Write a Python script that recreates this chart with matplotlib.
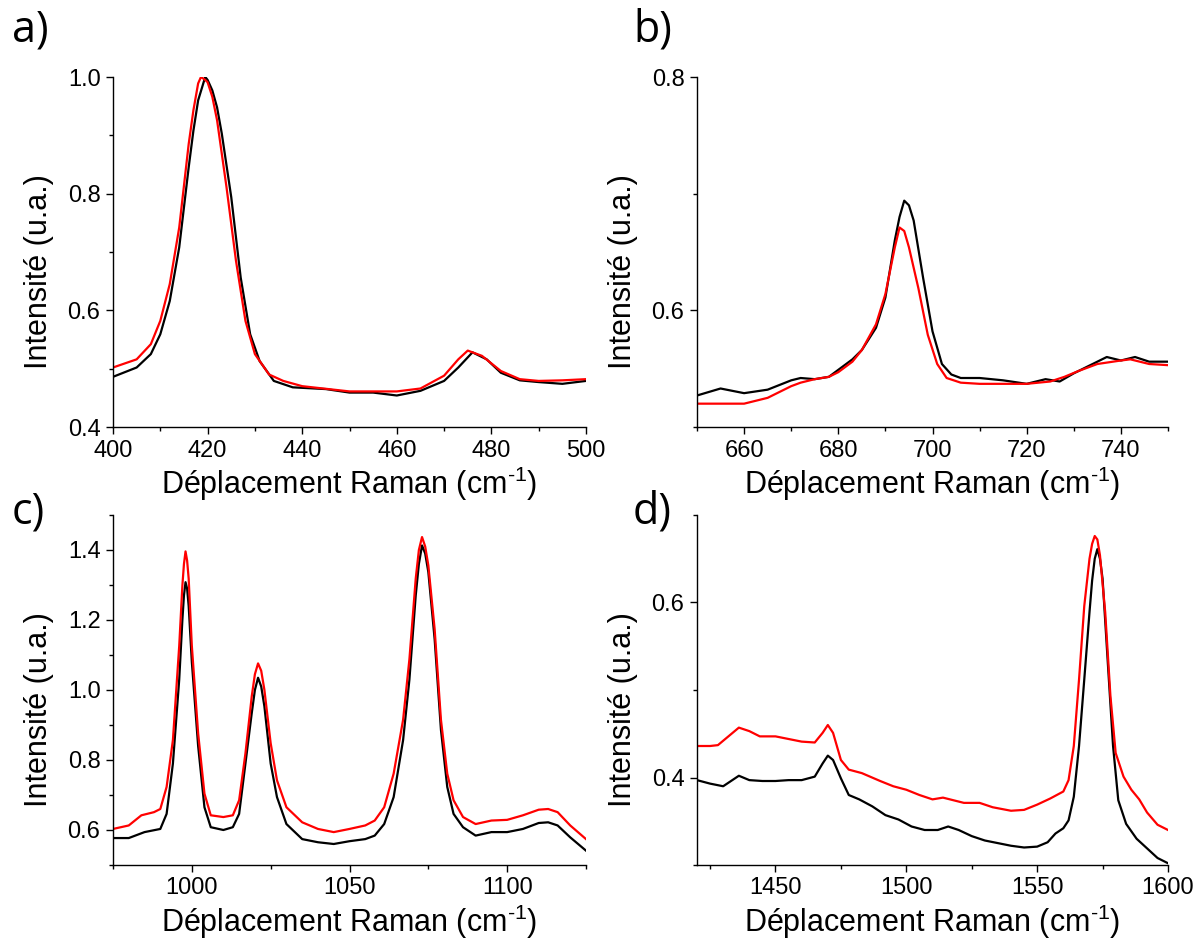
import matplotlib
matplotlib.use("Agg")
import matplotlib.pyplot as plt
from matplotlib.ticker import MultipleLocator

plt.rcParams['font.family'] = ['Liberation Sans', 'DejaVu Sans']
plt.rcParams['mathtext.fontset'] = 'custom'
plt.rcParams['mathtext.rm'] = 'Liberation Sans'
plt.rcParams['mathtext.it'] = 'Liberation Sans'

# a) 400-500 cm-1
xa_black = [400, 405, 408, 410, 412, 414, 416, 417, 418, 419.5, 420, 421, 422, 423, 425, 427, 429,
            431, 434, 438, 445, 450, 455, 460, 465, 470, 473, 476, 479, 482, 486, 490, 495, 500]
ya_black = [0.486, 0.502, 0.525, 0.559, 0.616, 0.708, 0.845, 0.908, 0.96, 1.0, 0.995, 0.977, 0.948,
            0.903, 0.794, 0.656, 0.559, 0.513, 0.479, 0.468, 0.465, 0.459, 0.459, 0.454, 0.462,
            0.479, 0.502, 0.528, 0.516, 0.493, 0.480, 0.477, 0.474, 0.479]
xa_red = [400, 405, 408, 410, 412, 414, 416, 417, 418, 418.6, 419.5, 420, 421, 422, 424, 426, 428,
          430, 433, 436, 440, 450, 460, 465, 470, 473, 475, 478, 482, 486, 490, 495, 500]
ya_red = [0.502, 0.516, 0.542, 0.582, 0.645, 0.742, 0.885, 0.943, 0.989, 1.0, 0.995, 0.991, 0.966,
          0.926, 0.811, 0.685, 0.582, 0.525, 0.490, 0.479, 0.470, 0.461, 0.461, 0.466, 0.488,
          0.516, 0.531, 0.522, 0.496, 0.482, 0.479, 0.480, 0.482]

# b) 650-750 cm-1
xb_black = [650, 655, 660, 665, 670, 672, 675, 678, 680, 683, 685, 688, 690, 692, 693, 694, 695,
            696, 698, 700, 702, 704, 706, 710, 715, 720, 724, 727, 730, 735, 737, 740, 743, 746, 750]
yb_black = [0.527, 0.533, 0.529, 0.532, 0.540, 0.542, 0.541, 0.543, 0.549, 0.558, 0.566, 0.585,
            0.611, 0.660, 0.680, 0.694, 0.690, 0.677, 0.628, 0.582, 0.554, 0.545, 0.542, 0.542,
            0.540, 0.537, 0.541, 0.539, 0.546, 0.556, 0.560, 0.557, 0.560, 0.556, 0.556]
xb_red = [650, 655, 660, 665, 668, 670, 672, 675, 678, 680, 683, 685, 688, 690, 692, 693, 694, 695,
          697, 699, 701, 703, 706, 710, 720, 725, 728, 731, 735, 740, 742, 746, 750]
yb_red = [0.520, 0.520, 0.520, 0.525, 0.531, 0.535, 0.538, 0.541, 0.543, 0.547, 0.556, 0.566,
          0.588, 0.614, 0.654, 0.671, 0.668, 0.654, 0.619, 0.579, 0.554, 0.542, 0.538, 0.537,
          0.537, 0.539, 0.543, 0.548, 0.554, 0.557, 0.558, 0.554, 0.553]

# c) 975-1125 cm-1
xc_black = [975, 980, 985, 990, 992, 994, 996, 997, 997.5, 998, 998.5, 999, 1000, 1002, 1004, 1006,
            1010, 1013, 1015, 1017, 1019, 1020, 1021, 1022, 1023, 1025, 1027, 1030, 1035, 1040,
            1045, 1050, 1055, 1058, 1061, 1064, 1067, 1069, 1071, 1072, 1073, 1074, 1075, 1077,
            1079, 1081, 1083, 1086, 1090, 1095, 1100, 1105, 1110, 1113, 1116, 1120, 1125]
yc_black = [0.577, 0.577, 0.594, 0.603, 0.646, 0.79, 1.03, 1.20, 1.27, 1.308, 1.29, 1.24, 1.08,
            0.84, 0.665, 0.608, 0.600, 0.608, 0.646, 0.79, 0.934, 1.00, 1.035, 1.01, 0.954, 0.79,
            0.694, 0.617, 0.574, 0.565, 0.560, 0.568, 0.574, 0.584, 0.617, 0.694, 0.857, 1.03,
            1.27, 1.36, 1.413, 1.39, 1.337, 1.145, 0.886, 0.723, 0.646, 0.608, 0.584, 0.594,
            0.594, 0.603, 0.620, 0.622, 0.613, 0.579, 0.541]
xc_red = [975, 980, 984, 988, 990, 992, 994, 996, 997, 997.5, 998, 998.5, 999, 1000, 1002, 1004,
          1006, 1010, 1013, 1015, 1017, 1019, 1020, 1021, 1022, 1023, 1025, 1027, 1030, 1035,
          1040, 1045, 1050, 1055, 1058, 1061, 1064, 1067, 1069, 1071, 1072, 1073, 1074, 1075,
          1077, 1079, 1081, 1083, 1086, 1090, 1095, 1100, 1105, 1110, 1113, 1116, 1120, 1125]
yc_red = [0.603, 0.613, 0.642, 0.651, 0.66, 0.723, 0.857, 1.126, 1.298, 1.36, 1.396, 1.37, 1.318,
          1.126, 0.876, 0.704, 0.642, 0.637, 0.642, 0.685, 0.819, 0.982, 1.045, 1.076, 1.055,
          1.001, 0.848, 0.742, 0.665, 0.622, 0.603, 0.594, 0.603, 0.613, 0.627, 0.665, 0.761,
          0.915, 1.088, 1.318, 1.40, 1.437, 1.41, 1.356, 1.174, 0.915, 0.761, 0.685, 0.637,
          0.617, 0.627, 0.629, 0.642, 0.658, 0.660, 0.651, 0.613, 0.574]

# d) 1420-1600 cm-1
xd_black = [1420, 1425, 1430, 1433, 1436, 1440, 1445, 1450, 1455, 1460, 1465, 1468, 1470, 1472,
            1475, 1478, 1482, 1487, 1492, 1497, 1502, 1507, 1512, 1516, 1520, 1525, 1530, 1535,
            1540, 1545, 1550, 1554, 1557, 1560, 1562, 1564, 1566, 1568, 1570, 1571, 1572, 1573,
            1574, 1575, 1577, 1579, 1581, 1584, 1588, 1592, 1596, 1600]
yd_black = [0.397, 0.393, 0.390, 0.396, 0.402, 0.397, 0.396, 0.396, 0.397, 0.397, 0.401, 0.416,
            0.425, 0.420, 0.399, 0.380, 0.375, 0.367, 0.357, 0.352, 0.344, 0.340, 0.340, 0.344,
            0.340, 0.333, 0.328, 0.325, 0.322, 0.320, 0.321, 0.326, 0.336, 0.342, 0.351, 0.378,
            0.436, 0.512, 0.589, 0.625, 0.650, 0.661, 0.650, 0.627, 0.531, 0.436, 0.374, 0.347,
            0.330, 0.319, 0.308, 0.302]
xd_red = [1420, 1425, 1428, 1432, 1436, 1440, 1444, 1450, 1455, 1460, 1465, 1468, 1470, 1472,
          1475, 1478, 1483, 1490, 1495, 1500, 1505, 1510, 1514, 1518, 1522, 1528, 1533, 1540,
          1545, 1550, 1555, 1560, 1562, 1564, 1566, 1568, 1570, 1571, 1572, 1573, 1574, 1576,
          1578, 1580, 1583, 1586, 1589, 1592, 1596, 1600]
yd_red = [0.436, 0.436, 0.437, 0.447, 0.457, 0.453, 0.447, 0.447, 0.444, 0.441, 0.440, 0.451,
          0.460, 0.451, 0.420, 0.409, 0.405, 0.396, 0.390, 0.386, 0.380, 0.375, 0.377, 0.374,
          0.371, 0.371, 0.366, 0.362, 0.363, 0.369, 0.376, 0.384, 0.397, 0.436, 0.512, 0.596,
          0.650, 0.667, 0.676, 0.672, 0.654, 0.589, 0.493, 0.428, 0.401, 0.386, 0.375, 0.360,
          0.346, 0.340]

panels = [
    ("a)", xa_black, ya_black, xa_red, ya_red, (400, 500), (0.4, 1.0), 20, 10, 0.2, 0.1),
    ("b)", xb_black, yb_black, xb_red, yb_red, (650, 750), (0.5, 0.8), 20, 10, 0.2, 0.1),
    ("c)", xc_black, yc_black, xc_red, yc_red, (975, 1125), (0.5, 1.5), 50, 25, 0.2, 0.1),
    ("d)", xd_black, yd_black, xd_red, yd_red, (1420, 1600), (0.3, 0.7), 50, 25, 0.2, 0.1),
]

fig = plt.figure(figsize=(12.04, 9.44), dpi=100)
W, H = 1204, 944
# axes boxes in pixels: left, top, right, bottom
boxes = [(113, 77, 586, 427), (697, 77, 1168, 427),
         (113, 515, 586, 865), (697, 515, 1168, 865)]
label_pos = [(12, 8), (633, 8), (12, 490), (633, 490)]

for (name, xk, yk, xr, yr, xlim, ylim, xmaj, xmin, ymaj, ymin), box, lp in zip(panels, boxes, label_pos):
    l, t, r, b = box
    ax = fig.add_axes([l / W, 1 - b / H, (r - l) / W, (b - t) / H])
    ax.plot(xk, yk, color='black', lw=1.6)
    ax.plot(xr, yr, color='#ff0000', lw=1.6)
    ax.set_xlim(*xlim)
    ax.set_ylim(*ylim)
    ax.xaxis.set_major_locator(MultipleLocator(xmaj))
    ax.xaxis.set_minor_locator(MultipleLocator(xmin))
    ax.yaxis.set_major_locator(MultipleLocator(ymaj))
    ax.yaxis.set_minor_locator(MultipleLocator(ymin))
    ax.spines['top'].set_visible(False)
    ax.spines['right'].set_visible(False)
    for s in ('left', 'bottom'):
        ax.spines[s].set_linewidth(1.0)
    ax.tick_params(which='major', direction='out', length=5, width=1.0, labelsize=17, pad=4)
    ax.tick_params(which='minor', direction='out', length=3, width=1.0)
    ax.set_xlabel(r'Déplacement Raman (cm$^{\text{-}1}$)', fontsize=22)
    ax.set_ylabel('Intensité (u.a.)', fontsize=22)
    ax.xaxis.set_label_coords(0.5, -0.163)
    ax.xaxis.label.set_va('center')
    ax.yaxis.set_label_coords(-0.157, 0.443)
    ax.yaxis.label.set_va('center')
    fig.text(lp[0] / W, 1 - lp[1] / H, name, fontsize=31, family='Open Sans',
             ha='left', va='top')

fig.savefig('out.png', dpi=100)
